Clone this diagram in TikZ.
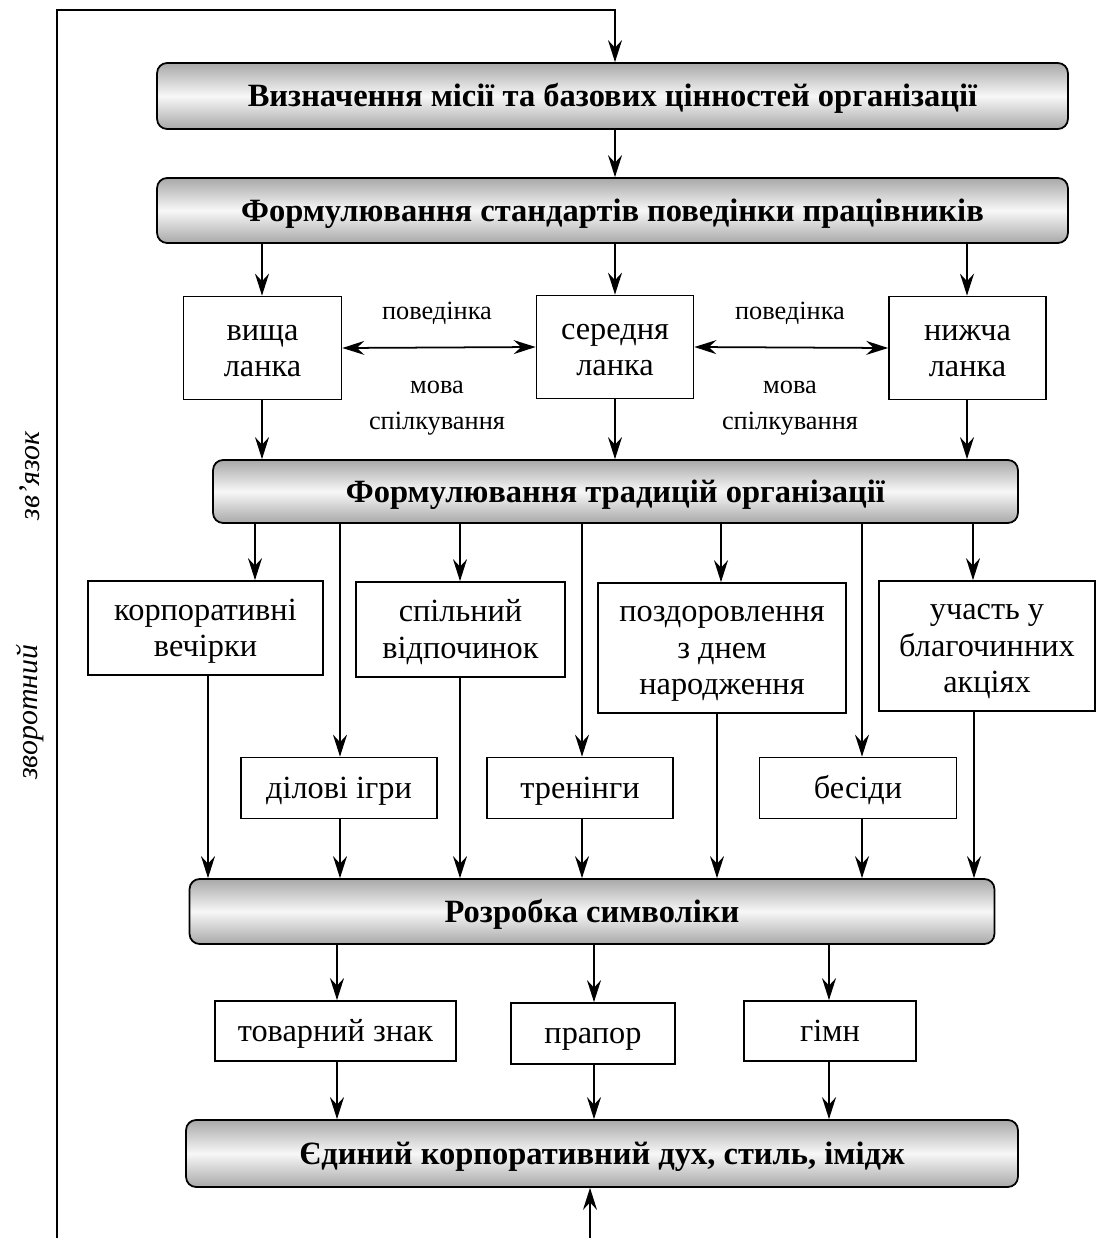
\documentclass[tikz,border=0pt]{standalone}
\usepackage{fontspec}
\setmainfont{Liberation Serif}
\usetikzlibrary{arrows.meta}

% struts keep every line of a box on the same grid
\newcommand{\lns}[1]{\rule{0pt}{16pt}#1\rule[-4.2pt]{0pt}{0pt}}

\begin{document}
\begin{tikzpicture}[
  x=0.02cm, y=-0.02cm,
  line width=1pt,
  >={Stealth[length=0.44cm,width=0.28cm,inset=0.15cm]},
  stage/.style={draw, rounded corners=0.2cm, top color=gray!68, bottom color=gray!68,
    middle color=gray!6, font=\fontsize{18.5}{21}\selectfont\bfseries, inner sep=0pt,
    text height=17pt, text depth=4.5pt},
  unit/.style={draw, fill=white, align=center, inner sep=0pt,
    font=\fontsize{18.4}{20.8}\selectfont},
  note/.style={align=center, font=\fontsize{15}{20.5}\selectfont},
  side/.style={rotate=90, font=\fontsize{17}{20}\selectfont\itshape}
]
\useasboundingbox (0,0) rectangle (1099,1238);

% main stages
\node[stage, minimum width=18.22cm, minimum height=1.32cm] (mission) at (612.5,96)
  {Визначення місії та базових цінностей організації};
\node[stage, minimum width=18.22cm, minimum height=1.30cm] (rules) at (612.5,210.5)
  {Формулювання стандартів поведінки працівників};
\node[stage, minimum width=16.10cm, minimum height=1.26cm] (trad) at (615.5,491.5)
  {Формулювання традицій організації};
\node[stage, minimum width=16.10cm, minimum height=1.30cm] (symb) at (592,911.5)
  {Розробка символіки};
\node[stage, minimum width=16.64cm, minimum height=1.34cm] (spirit) at (602,1153.5)
  {Єдиний корпоративний дух, стиль, імідж};

% levels
\node[unit, minimum width=3.16cm, minimum height=2.06cm] (top) at (262.5,348) {\lns{вища\\ланка}};
\node[unit, minimum width=3.14cm, minimum height=2.06cm] (mid) at (615,347) {\lns{середня\\ланка}};
\node[unit, minimum width=3.14cm, minimum height=2.06cm] (low) at (967.5,348) {\lns{нижча\\ланка}};

% traditions
\node[unit, minimum width=4.70cm, minimum height=1.88cm] (party) at (205.5,628) {\lns{корпоративні\\вечірки}};
\node[unit, minimum width=4.18cm, minimum height=1.90cm] (rest) at (460.5,629.5) {\lns{спільний\\відпочинок}};
\node[unit, minimum width=4.96cm, minimum height=2.60cm] (bday) at (722,648) {\lns{поздоровлення\\з днем\\народження}};
\node[unit, minimum width=4.32cm, minimum height=2.60cm] (charity) at (987,646) {\lns{участь у\\благочинних\\акціях}};
\node[unit, minimum width=3.92cm, minimum height=1.22cm] (games) at (339,788) {\lns{ділові ігри}};
\node[unit, minimum width=3.72cm, minimum height=1.22cm] (train) at (580,788) {\lns{тренінги}};
\node[unit, minimum width=3.94cm, minimum height=1.22cm] (talk) at (858,788) {\lns{бесіди}};

% symbols
\node[unit, minimum width=4.82cm, minimum height=1.20cm] (mark) at (335.5,1031) {\lns{товарний знак}};
\node[unit, minimum width=3.28cm, minimum height=1.22cm] (flag) at (593,1033.5) {\lns{прапор}};
\node[unit, minimum width=3.44cm, minimum height=1.20cm] (hymn) at (830,1031) {\lns{гімн}};

% labels between levels
\node[note] (beh1) at (437,313) {поведінка};
\node[note] (beh2) at (790,313) {поведінка};
\node[note] (lang1) at (437,408) {мова\\спілкування};
\node[note] (lang2) at (790,408) {мова\\спілкування};

\node[side] (fbA) at (30,476) {зв'язок};
\node[side] (fbB) at (30,712) {зворотний};

% connectors
\draw[->] (615,0 |- mission.south) -- (615,0 |- rules.north);
\foreach \x/\a/\b in {262/rules/top, 615/rules/mid, 967/rules/low,
    262/top/trad, 615/mid/trad, 967/low/trad,
    255/trad/party, 340/trad/games, 460/trad/rest, 582/trad/train,
    721/trad/bday, 862/trad/talk, 973/trad/charity,
    208/party/symb, 340/games/symb, 460/rest/symb, 582/train/symb,
    717/bday/symb, 862/talk/symb, 974/charity/symb,
    337/symb/mark, 594/symb/flag, 829/symb/hymn,
    337/mark/spirit, 594/flag/spirit, 829/hymn/spirit}
  \draw[->] (\x,0 |- \a.south) -- (\x,0 |- \b.north);

\draw[<->] (top.east) -- (mid.west);
\draw[<->] (mid.east) -- (low.west);

% feedback loop
\coordinate (loopL) at (57,1238);
\coordinate (loopR) at (590,1238);
\draw[->] (loopL) |- (615,10) -- (615,0 |- mission.north);
\draw[->] (loopR) -- (590,0 |- spirit.south);
\end{tikzpicture}
\end{document}
